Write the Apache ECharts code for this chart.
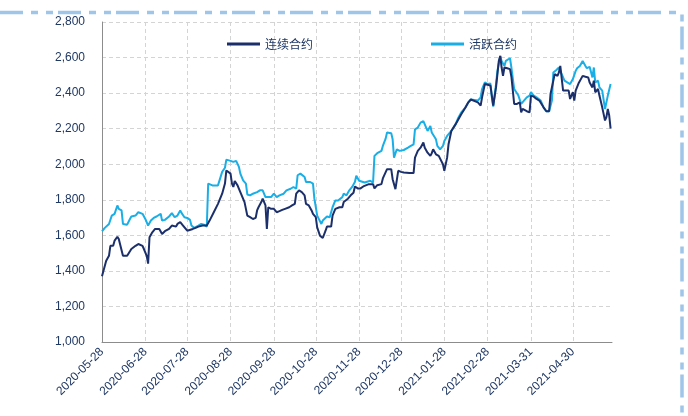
<!DOCTYPE html>
<html><head><meta charset="utf-8">
<script src="https://cdn.jsdelivr.net/npm/echarts@6/dist/echarts.min.js"></script>
<style>html,body{margin:0;padding:0;background:#fff}#c{width:688px;height:416px}</style>
</head><body><div id="c"></div>
<script>
// x-axis tick labels (calendar axis from 2020-05-28 to 2021-05-28)
const axisStart = '2020-05-28';
const axisEnd = '2021-05-28';
const tickLabels = ['2020-05-28','2020-06-28','2020-07-28','2020-08-28','2020-09-28','2020-10-28','2020-11-28','2020-12-28','2021-01-28','2021-02-28','2021-03-31','2021-04-30'];
const yTicks = [1000,1200,1400,1600,1800,2000,2200,2400,2600,2800];
const seriesNames = ['连续合约','活跃合约'];

// 连续合约
const datesCont = ['2020-05-28','2020-05-29','2020-05-31','2020-06-02','2020-06-03','2020-06-05','2020-06-06','2020-06-08','2020-06-09','2020-06-10','2020-06-12','2020-06-15','2020-06-17','2020-06-18','2020-06-21','2020-06-23','2020-06-26','2020-06-27','2020-06-29','2020-06-30','2020-07-01','2020-07-03','2020-07-05','2020-07-08','2020-07-10','2020-07-12','2020-07-15','2020-07-17','2020-07-20','2020-07-21','2020-07-23','2020-07-25','2020-07-28','2020-07-29','2020-08-01','2020-08-03','2020-08-05','2020-08-08','2020-08-11','2020-08-13','2020-08-16','2020-08-19','2020-08-22','2020-08-24','2020-08-25','2020-08-26','2020-08-28','2020-08-29','2020-08-30','2020-08-31','2020-09-02','2020-09-04','2020-09-05','2020-09-07','2020-09-09','2020-09-11','2020-09-13','2020-09-15','2020-09-16','2020-09-17','2020-09-19','2020-09-20','2020-09-22','2020-09-23','2020-09-24','2020-09-26','2020-09-28','2020-09-30','2020-10-02','2020-10-04','2020-10-06','2020-10-09','2020-10-11','2020-10-13','2020-10-14','2020-10-16','2020-10-18','2020-10-20','2020-10-21','2020-10-23','2020-10-25','2020-10-26','2020-10-28','2020-10-29','2020-10-31','2020-11-02','2020-11-04','2020-11-05','2020-11-08','2020-11-09','2020-11-11','2020-11-14','2020-11-16','2020-11-17','2020-11-20','2020-11-22','2020-11-24','2020-11-25','2020-11-27','2020-11-29','2020-12-01','2020-12-05','2020-12-08','2020-12-09','2020-12-11','2020-12-14','2020-12-15','2020-12-18','2020-12-19','2020-12-21','2020-12-22','2020-12-24','2020-12-26','2020-12-28','2020-12-30','2020-12-31','2021-01-03','2021-01-06','2021-01-07','2021-01-09','2021-01-11','2021-01-13','2021-01-14','2021-01-16','2021-01-18','2021-01-19','2021-01-20','2021-01-22','2021-01-24','2021-01-25','2021-01-27','2021-01-28','2021-01-30','2021-01-31','2021-02-02','2021-02-05','2021-02-07','2021-02-09','2021-02-12','2021-02-14','2021-02-16','2021-02-21','2021-02-23','2021-02-24','2021-02-26','2021-02-28','2021-03-02','2021-03-03','2021-03-04','2021-03-06','2021-03-08','2021-03-09','2021-03-10','2021-03-11','2021-03-12','2021-03-14','2021-03-16','2021-03-17','2021-03-18','2021-03-19','2021-03-21','2021-03-23','2021-03-24','2021-03-25','2021-03-28','2021-03-30','2021-03-31','2021-04-02','2021-04-04','2021-04-06','2021-04-09','2021-04-11','2021-04-13','2021-04-14','2021-04-17','2021-04-19','2021-04-20','2021-04-21','2021-04-23','2021-04-25','2021-04-27','2021-04-28','2021-04-30','2021-05-01','2021-05-02','2021-05-04','2021-05-07','2021-05-09','2021-05-11','2021-05-12','2021-05-14','2021-05-15','2021-05-16','2021-05-18','2021-05-19','2021-05-21','2021-05-23','2021-05-24','2021-05-25','2021-05-26','2021-05-27'];
const valuesCont = [1370,1370,1457,1485,1541,1541,1570,1592,1579,1570,1485,1485,1510,1523,1541,1551,1541,1523,1485,1441,1589,1617,1636,1636,1608,1623,1636,1655,1649,1664,1674,1655,1626,1630,1636,1642,1649,1655,1655,1683,1730,1777,1834,1891,1965,1975,1947,1891,1872,1906,1881,1843,1834,1787,1711,1702,1692,1698,1740,1758,1787,1806,1768,1636,1758,1749,1749,1730,1736,1743,1749,1758,1768,1777,1834,1853,1843,1825,1777,1768,1740,1721,1702,1645,1598,1585,1626,1649,1649,1711,1749,1758,1758,1787,1806,1825,1840,1875,1864,1864,1875,1888,1888,1864,1882,1888,1920,1972,1963,1972,1916,1860,1963,1957,1953,1944,1950,1950,2037,2075,2093,2122,2093,2065,2047,2062,2084,2056,2047,2037,2000,1963,2037,2112,2187,2224,2252,2280,2318,2346,2364,2348,2330,2376,2451,2447,2442,2386,2330,2432,2581,2609,2544,2497,2544,2540,2535,2492,2488,2339,2339,2348,2292,2311,2298,2292,2386,2380,2367,2358,2320,2298,2298,2395,2507,2497,2516,2553,2414,2414,2414,2367,2405,2358,2414,2454,2497,2492,2488,2460,2432,2470,2405,2423,2386,2320,2246,2265,2311,2274,2200];

// 活跃合约
const datesAct = ['2020-05-28','2020-05-30','2020-06-02','2020-06-04','2020-06-06','2020-06-08','2020-06-09','2020-06-11','2020-06-12','2020-06-15','2020-06-17','2020-06-18','2020-06-21','2020-06-23','2020-06-26','2020-06-28','2020-06-30','2020-07-02','2020-07-04','2020-07-06','2020-07-09','2020-07-10','2020-07-12','2020-07-15','2020-07-17','2020-07-19','2020-07-21','2020-07-23','2020-07-24','2020-07-26','2020-07-28','2020-07-30','2020-07-31','2020-08-02','2020-08-05','2020-08-07','2020-08-09','2020-08-11','2020-08-12','2020-08-15','2020-08-19','2020-08-20','2020-08-22','2020-08-24','2020-08-25','2020-08-26','2020-08-28','2020-08-30','2020-09-01','2020-09-03','2020-09-04','2020-09-06','2020-09-08','2020-09-09','2020-09-11','2020-09-13','2020-09-16','2020-09-18','2020-09-20','2020-09-22','2020-09-23','2020-09-24','2020-09-26','2020-09-28','2020-09-30','2020-10-02','2020-10-05','2020-10-07','2020-10-10','2020-10-12','2020-10-14','2020-10-15','2020-10-17','2020-10-18','2020-10-20','2020-10-21','2020-10-24','2020-10-26','2020-10-27','2020-10-29','2020-11-01','2020-11-02','2020-11-05','2020-11-07','2020-11-09','2020-11-11','2020-11-13','2020-11-16','2020-11-17','2020-11-19','2020-11-21','2020-11-23','2020-11-25','2020-11-26','2020-11-28','2020-11-29','2020-12-02','2020-12-03','2020-12-06','2020-12-08','2020-12-09','2020-12-11','2020-12-14','2020-12-15','2020-12-17','2020-12-18','2020-12-21','2020-12-22','2020-12-23','2020-12-25','2020-12-27','2020-12-30','2020-12-31','2021-01-02','2021-01-04','2021-01-06','2021-01-07','2021-01-09','2021-01-11','2021-01-13','2021-01-14','2021-01-16','2021-01-18','2021-01-19','2021-01-20','2021-01-22','2021-01-23','2021-01-25','2021-01-27','2021-01-28','2021-01-30','2021-01-31','2021-02-02','2021-02-05','2021-02-07','2021-02-09','2021-02-12','2021-02-14','2021-02-16','2021-02-21','2021-02-23','2021-02-24','2021-02-26','2021-02-28','2021-03-02','2021-03-03','2021-03-04','2021-03-06','2021-03-07','2021-03-09','2021-03-10','2021-03-12','2021-03-13','2021-03-16','2021-03-17','2021-03-19','2021-03-21','2021-03-22','2021-03-24','2021-03-25','2021-03-28','2021-03-30','2021-03-31','2021-04-02','2021-04-04','2021-04-07','2021-04-09','2021-04-11','2021-04-13','2021-04-15','2021-04-16','2021-04-18','2021-04-20','2021-04-21','2021-04-22','2021-04-24','2021-04-26','2021-04-28','2021-04-30','2021-05-02','2021-05-03','2021-05-05','2021-05-07','2021-05-09','2021-05-10','2021-05-12','2021-05-14','2021-05-15','2021-05-16','2021-05-18','2021-05-19','2021-05-21','2021-05-23','2021-05-24','2021-05-25','2021-05-26','2021-05-27'];
const valuesAct = [1623,1642,1664,1711,1721,1768,1749,1740,1664,1660,1692,1706,1711,1730,1721,1692,1655,1683,1698,1706,1721,1683,1687,1706,1725,1702,1711,1740,1725,1702,1698,1687,1655,1642,1655,1664,1660,1649,1891,1881,1881,1891,1957,1980,2026,2020,2019,2013,2019,1985,1947,1909,1891,1830,1825,1834,1843,1853,1853,1815,1806,1815,1815,1834,1815,1825,1834,1853,1862,1872,1862,1938,1947,1938,1928,1900,1900,1891,1806,1711,1664,1683,1706,1702,1758,1796,1796,1815,1834,1825,1853,1872,1900,1935,1907,1897,1897,1907,1907,1897,2047,2062,2075,2103,2144,2178,2174,2140,2037,2084,2075,2080,2069,2093,2103,2112,2196,2206,2234,2243,2224,2187,2215,2178,2187,2140,2103,2084,2103,2131,2159,2168,2187,2224,2262,2290,2318,2346,2364,2358,2376,2423,2460,2451,2454,2376,2324,2451,2525,2609,2581,2553,2581,2596,2544,2423,2399,2386,2339,2348,2376,2386,2405,2386,2376,2358,2320,2298,2298,2358,2516,2529,2544,2553,2507,2470,2460,2451,2479,2525,2540,2553,2581,2553,2540,2548,2488,2544,2460,2470,2432,2414,2311,2320,2386,2395,2451];

// build calendar categories
function buildDays(a, b) {
  const out = [];
  const d = new Date(a + 'T00:00:00Z');
  const e = new Date(b + 'T00:00:00Z');
  while (d <= e) { out.push(d.toISOString().slice(0, 10)); d.setUTCDate(d.getUTCDate() + 1); }
  return out;
}
const days = buildDays(axisStart, axisEnd);
const idx = {};
days.forEach((d, i) => idx[d] = i);
const pair = (ds, vs) => ds.map((d, i) => [idx[d], vs[i]]);
const isTick = (i, v) => tickLabels.indexOf(v) >= 0;

const navy = '#1b2f6b';
const cyan = '#1aaee6';
const txt = '#1f3864';
const font = '"Noto Sans CJK SC", "Liberation Sans", sans-serif';

const chart = echarts.init(document.getElementById('c'), null, {renderer: 'canvas'});
chart.setOption({
  animation: false,
  backgroundColor: '#ffffff',
  grid: {left: 102, right: 76, top: 22, bottom: 74},
  legend: {
    data: seriesNames,
    left: 222, top: 33,
    icon: 'rect', itemWidth: 33, itemHeight: 3, itemGap: 118,
    textStyle: {color: txt, fontSize: 12, fontFamily: font}
  },
  xAxis: {
    type: 'category', data: days, boundaryGap: false,
    axisLine: {lineStyle: {color: '#8c8c8c', width: 1}},
    axisTick: {show: false},
    axisLabel: {interval: isTick, rotate: 45, color: txt, fontSize: 12, fontFamily: '"Liberation Sans", sans-serif', margin: 8},
    splitLine: {show: true, interval: isTick, lineStyle: {color: '#d4d4d4', type: [4, 3], width: 1}}
  },
  yAxis: {
    type: 'value', min: yTicks[0], max: yTicks[yTicks.length - 1], interval: 200,
    axisLine: {show: true, lineStyle: {color: '#8c8c8c', width: 1}},
    axisTick: {show: false},
    axisLabel: {color: txt, fontSize: 12, margin: 17, fontFamily: '"Liberation Sans", sans-serif',
      formatter: v => v.toLocaleString('en-US')},
    splitLine: {show: true, lineStyle: {color: '#d4d4d4', type: [4, 3], width: 1}}
  },
  series: [
    {name: seriesNames[1], type: 'line', data: pair(datesAct, valuesAct), symbol: 'none',
      lineStyle: {color: cyan, width: 2}, itemStyle: {color: cyan}, z: 2},
    {name: seriesNames[0], type: 'line', data: pair(datesCont, valuesCont), symbol: 'none',
      lineStyle: {color: navy, width: 2}, itemStyle: {color: navy}, z: 3}
  ],
  graphic: [
    {type: 'polyline', silent: true, z: 10,
      shape: {points: [[0, 12.5], [682, 12.5], [682, 416]]},
      style: {fill: null, stroke: '#9fc5e8', lineWidth: 3.5, lineDash: [23, 8, 7, 8, 7, 5]}}
  ]
});
</script></body></html>
